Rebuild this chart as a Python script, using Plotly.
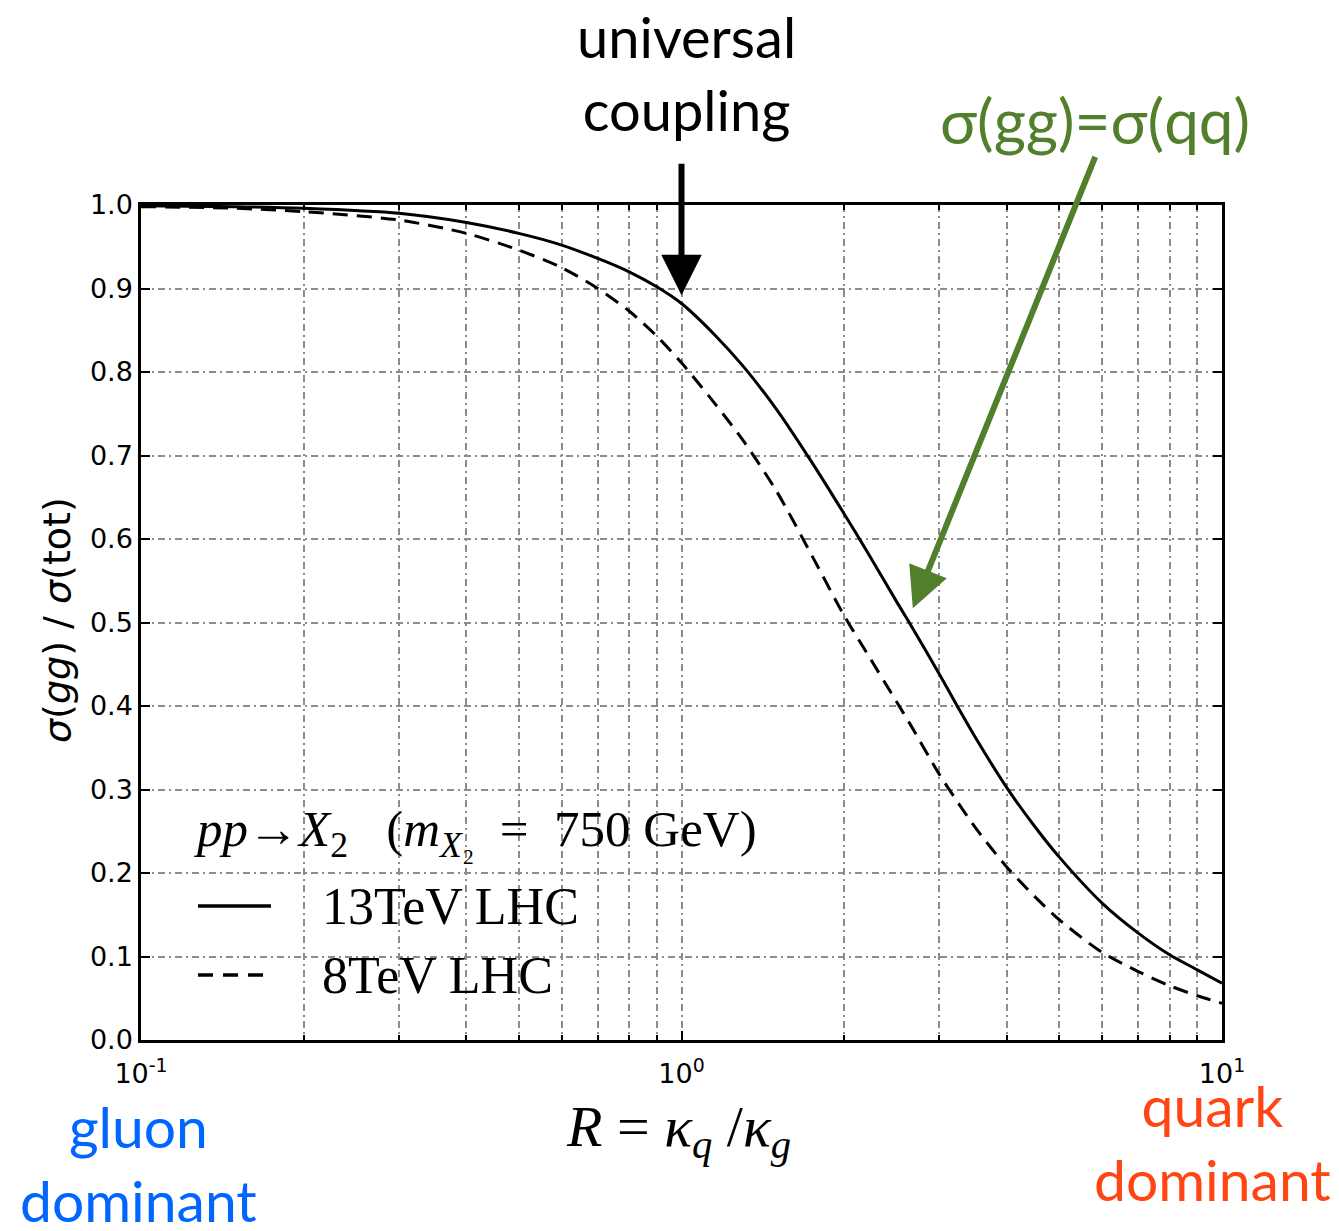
import plotly.graph_objects as go

# Ratio R = kappa_q / kappa_g
R = [0.1, 0.15, 0.2, 0.3, 0.4, 0.5, 0.6, 0.7, 0.8, 0.9, 1.0, 1.15, 1.3, 1.5, 1.75,
     2.0, 2.2, 2.5, 2.65, 3.0, 3.25, 3.5, 4.0, 4.5, 5.0, 6.0, 7.0, 8.0, 9.0, 10.0]

# sigma(gg)/sigma(tot) for a 750 GeV spin-2 resonance
frac_13tev = [0.999, 0.998, 0.996, 0.990, 0.979, 0.966, 0.952, 0.936, 0.920, 0.902,
              0.882, 0.845, 0.807, 0.755, 0.690, 0.630, 0.586, 0.525, 0.498, 0.438,
              0.398, 0.362, 0.302, 0.256, 0.219, 0.164, 0.128, 0.102, 0.084, 0.068]
frac_8tev = [0.998, 0.996, 0.992, 0.982, 0.966, 0.946, 0.925, 0.900, 0.873, 0.843,
             0.811, 0.763, 0.718, 0.657, 0.578, 0.508, 0.464, 0.405, 0.378, 0.318,
             0.284, 0.254, 0.207, 0.172, 0.144, 0.105, 0.082, 0.065, 0.053, 0.044]

series_names = ["13TeV LHC", "8TeV LHC"]
x_tickvals = [0.1, 1, 10]
x_ticktext = ["10<sup>-1</sup>", "10<sup>0</sup>", "10<sup>1</sup>"]
x_minor = [m * d for d in (0.1, 1) for m in range(2, 10)]

GRID = "#8c8c8c"
GRID_DASH = "7px,4px,2px,4px"
TICK_FONT = dict(family="DejaVu Sans", size=27, color="black")
SERIF = "Liberation Serif"
SANS = "Lato"
NB = "\u00a0"

fig = go.Figure()
fig.add_trace(go.Scatter(x=R, y=frac_13tev, mode="lines", name=series_names[0],
                         line=dict(color="black", width=3, shape="spline", smoothing=0.8),
                         showlegend=False))
fig.add_trace(go.Scatter(x=R, y=frac_8tev, mode="lines", name=series_names[1],
                         line=dict(color="black", width=3, dash="15px,9px",
                                   shape="spline", smoothing=0.8),
                         showlegend=False))

axis_common = dict(
    showline=True, linecolor="black", linewidth=2.5, mirror="allticks",
    ticks="inside", tickcolor="black", tickwidth=2, ticklen=9,
    showgrid=True, gridcolor=GRID, gridwidth=1.5, griddash=GRID_DASH,
    zeroline=False, tickfont=TICK_FONT,
)

fig.update_xaxes(
    type="log", range=[-1, 1], tickmode="array",
    tickvals=x_tickvals, ticktext=x_ticktext, ticklabelstandoff=8,
    minor=dict(tickmode="array", tickvals=x_minor, ticks="inside", ticklen=5,
               tickwidth=1.5, tickcolor="black", showgrid=True,
               gridcolor=GRID, gridwidth=1.5, griddash=GRID_DASH),
    **axis_common,
)
fig.update_yaxes(range=[0, 1], dtick=0.1, tick0=0, tickformat=".1f", **axis_common)

W, H = 1339, 1231
L, Rm, T, B = 141, 117, 205, 191
pw, ph = W - L - Rm, H - T - B


def px(x):
    return (x - L) / pw


def py(y):
    return (H - B - y) / ph


annotations = []

# axis titles
annotations.append(dict(
    text=f"<i>σ</i>(<i>gg</i>){NB}/{NB}<i>σ</i>(tot)", textangle=-90,
    xref="paper", yref="paper", x=px(57), y=py(620), xanchor="center", yanchor="middle",
    showarrow=False, font=dict(family="DejaVu Sans", size=38, color="black")))
annotations.append(dict(
    text=f"<i>R</i>{NB}={NB}<i>κ</i><sub><i>q</i></sub>{NB}/<i>κ</i><sub><i>g</i></sub>",
    xref="paper", yref="paper", x=px(678), y=py(1130), xanchor="center", yanchor="middle",
    showarrow=False, font=dict(family=SERIF, size=58, color="black")))

# legend block
annotations.append(dict(
    text=(f"<i>pp</i>→<i>X</i><sub>2</sub>{NB*3}(<i>m</i><sub><i>X</i>₂</sub>{NB*2}="
          f"{NB*2}750{NB}GeV)"),
    xref="paper", yref="paper", x=px(192), y=py(833), xanchor="left", yanchor="middle",
    showarrow=False, font=dict(family=SERIF, size=51, color="black")))
for name, yy in zip(series_names, (906, 975)):
    annotations.append(dict(
        text=name, xref="paper", yref="paper", x=px(320), y=py(yy),
        xanchor="left", yanchor="middle", showarrow=False,
        font=dict(family=SERIF, size=52, color="black")))

shapes = [
    dict(type="line", xref="paper", yref="paper", x0=px(198), x1=px(271),
         y0=py(906), y1=py(906), line=dict(color="black", width=3.5)),
    dict(type="line", xref="paper", yref="paper", x0=px(198), x1=px(271),
         y0=py(975), y1=py(975), line=dict(color="black", width=3.5, dash="15px,10px")),
]

# call-outs
annotations.append(dict(
    text="universal<br>coupling", xref="paper", yref="paper", x=px(686), y=py(73),
    xanchor="center", yanchor="middle", showarrow=False,
    font=dict(family=SANS, size=56, color="black")))
annotations.append(dict(
    text="", xref="x", yref="y", x=0, y=0.892, ax=0, ay=-133,
    showarrow=True, arrowhead=2, arrowwidth=6, arrowsize=1.35, arrowcolor="black"))

GREEN = "#527f2c"
annotations.append(dict(
    text="σ(gg)=σ(qq)", xref="paper", yref="paper", x=px(1095), y=py(120),
    xanchor="center", yanchor="middle", showarrow=False,
    font=dict(family=SANS, size=62, color=GREEN)))
annotations.append(dict(
    text="", xref="x", yref="y", x=0.428, y=0.517, ax=183, ay=-453,
    showarrow=True, arrowhead=2, arrowwidth=6, arrowsize=1.35, arrowcolor=GREEN))

annotations.append(dict(
    text="gluon<br>dominant", xref="paper", yref="paper", x=px(138), y=py(1163),
    xanchor="center", yanchor="middle", showarrow=False,
    font=dict(family=SANS, size=57, color="#0066ff")))
annotations.append(dict(
    text="quark<br>dominant", xref="paper", yref="paper", x=px(1212), y=py(1142),
    xanchor="center", yanchor="middle", showarrow=False,
    font=dict(family=SANS, size=57, color="#ff4513")))

fig.update_layout(
    width=W, height=H, autosize=False,
    margin=dict(l=L, r=Rm, t=T, b=B, pad=0),
    paper_bgcolor="white", plot_bgcolor="white",
    annotations=annotations, shapes=shapes, showlegend=False,
)

fig.write_html("out.html")
